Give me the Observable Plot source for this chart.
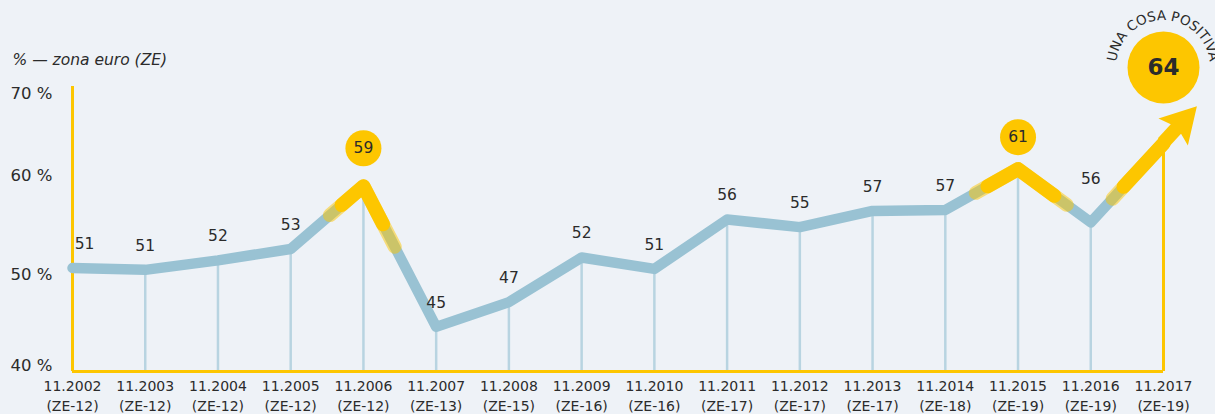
<!DOCTYPE html>
<html>
<head>
<meta charset="utf-8">
<script src="https://cdn.jsdelivr.net/npm/d3@7"></script>
<script src="https://cdn.jsdelivr.net/npm/@observablehq/plot@0.6"></script>
<style>
  html, body { margin: 0; padding: 0; background: #eef2f7; }
  #chart svg { display: block; }
</style>
</head>
<body>
<div id="chart"></div>
<script>
const years = [2002, 2003, 2004, 2005, 2006, 2007, 2008, 2009, 2010, 2011, 2012, 2013, 2014, 2015, 2016, 2017];
const tickLabels = ["11.2002", "11.2003", "11.2004", "11.2005", "11.2006", "11.2007", "11.2008", "11.2009", "11.2010", "11.2011", "11.2012", "11.2013", "11.2014", "11.2015", "11.2016", "11.2017"];
const zones = ["ZE-12", "ZE-12", "ZE-12", "ZE-12", "ZE-12", "ZE-13", "ZE-15", "ZE-16", "ZE-16", "ZE-17", "ZE-17", "ZE-17", "ZE-18", "ZE-19", "ZE-19", "ZE-19"];
const values = [50.9, 50.7, 51.7, 52.9, 59.5, 44.7, 47.3, 52.0, 50.8, 56.0, 55.2, 56.9, 57.0, 61.3, 55.7, 64.0];
const valueLabels = [51, 51, 52, 53, 59, 45, 47, 52, 51, 56, 55, 57, 57, 61, 56, 64];
const yTicks = [40, 50, 60, 70];
const peakIndex = [4, 13];
const title = "% — zona euro (ZE)";
const badge = "UNA COSA POSITIVA";

const YELLOW = "#fdc600";
const BLUE = "#99c2d3";
const DROP = "#b8d4e1";
const INK = "#2b2b2b";
const FONT = "DejaVu Sans, sans-serif";

const data = years.map((year, i) => ({
  year, value: values[i], label: valueLabels[i],
  tick: tickLabels[i] + "\n(" + zones[i] + ")", i
}));
const last = data[data.length - 1];
const prev = data[data.length - 2];

// fractional point along the segment from point a toward neighbour b
function along(a, b, f) {
  return {year: a.year + (b.year - a.year) * f, value: a.value + (b.value - a.value) * f};
}
function peakPath(i, fl, fr, g) {
  const p = data[i];
  return [
    {...along(p, data[i - 1], fl), g},
    {year: p.year, value: p.value, g},
    {...along(p, data[i + 1], fr), g}
  ];
}
const outerHL = [
  ...peakPath(4, 0.46, 0.43, "a"),
  ...peakPath(13, 0.58, 0.67, "b"),
  {...along(last, prev, 0.7), g: "c"}, {year: last.year, value: last.value, g: "c"}
];
const innerHL = [
  ...peakPath(4, 0.3, 0.27, "a"),
  ...peakPath(13, 0.42, 0.5, "b"),
  {...along(last, prev, 0.55), g: "c"}, {year: last.year, value: last.value, g: "c"}
];

const plain = data.filter(d => !peakIndex.includes(d.i) && d !== last && d.i !== 0 && d.i !== 14);
const yMid = yTicks.filter(v => v !== 40 && v !== 70);

const txt = {fill: INK, fontSize: 15.5};
const yl = {fill: INK, fontSize: 16.5};

const plot = Plot.plot({
  width: 1215,
  height: 414,
  marginLeft: 72,
  marginRight: 52,
  marginTop: 86,
  marginBottom: 43,
  style: {background: "#eef2f7", fontFamily: FONT, color: INK, overflow: "visible"},
  x: {domain: [2002, 2017], axis: null},
  y: {domain: [40, 70], axis: null},
  marks: [
    Plot.ruleX(data.filter(d => d !== last && d.i !== 0), {x: "year", y1: 40, y2: "value", stroke: DROP, strokeWidth: 2.5}),
    Plot.ruleX([last], {x: "year", y1: 40, y2: "value", stroke: YELLOW, strokeWidth: 3}),
    Plot.ruleX([2002], {stroke: YELLOW, strokeWidth: 3}),
    Plot.ruleY([40], {stroke: YELLOW, strokeWidth: 3}),
    Plot.line(data, {x: "year", y: "value", stroke: BLUE, strokeWidth: 10.5, strokeLinejoin: "round"}),
    Plot.line(outerHL, {x: "year", y: "value", z: "g", stroke: YELLOW, strokeOpacity: 0.5, strokeWidth: 14, strokeLinejoin: "round"}),
    Plot.line(innerHL, {x: "year", y: "value", z: "g", stroke: YELLOW, strokeWidth: 14, strokeLinejoin: "round"}),
    // value labels
    Plot.text(plain, {x: "year", y: "value", text: "label", dy: -24, ...txt}),
    Plot.text([data[0]], {x: "year", y: "value", text: "label", dy: -24, dx: 12, ...txt}),
    Plot.text([data[14]], {x: "year", y: "value", text: "label", dy: -43, ...txt}),
    // peak badges
    Plot.dot([data[4]], {x: "year", y: "value", r: 18, dy: -38, fill: YELLOW}),
    Plot.text([data[4]], {x: "year", y: "value", text: "label", dy: -38, ...txt}),
    Plot.dot([data[13]], {x: "year", y: "value", r: 18, dy: -32, fill: YELLOW}),
    Plot.text([data[13]], {x: "year", y: "value", text: "label", dy: -32, ...txt}),
    Plot.dot([last], {x: "year", y: "value", dy: -76, r: 36, fill: YELLOW}),
    Plot.text([last], {x: "year", y: "value", dy: -76, text: "label", fontSize: 23, fontWeight: "bold", fill: INK}),
    // y tick labels
    Plot.text([70], {y: d => d, frameAnchor: "left", dx: -62, textAnchor: "start", lineAnchor: "top", dy: 1, text: d => d + " %", ...yl}),
    Plot.text([yMid[0]], {y: d => d, frameAnchor: "left", dx: -62, textAnchor: "start", lineAnchor: "middle", dy: -2, text: d => d + " %", ...yl}),
    Plot.text([yMid[1]], {y: d => d, frameAnchor: "left", dx: -62, textAnchor: "start", lineAnchor: "middle", dy: -6, text: d => d + " %", ...yl}),
    Plot.text([40], {y: d => d, frameAnchor: "left", dx: -62, textAnchor: "start", lineAnchor: "bottom", dy: -1, text: d => d + " %", ...yl}),
    // x tick labels
    Plot.text(data, {x: "year", frameAnchor: "bottom", lineAnchor: "top", dy: 5, text: "tick", fontSize: 14, lineHeight: 1.43, fill: INK}),
    // title
    Plot.text([title], {frameAnchor: "top-left", lineAnchor: "middle", dx: -60, dy: -26, textAnchor: "start", text: d => d, fontSize: 15.5, fontStyle: "italic", fill: INK})
  ]
});

// arrow head at the end, placed through the plot's own scales
const sx = plot.scale("x"), sy = plot.scale("y");
const p1 = [sx.apply(prev.year), sy.apply(prev.value)];
const p2 = [sx.apply(last.year), sy.apply(last.value)];
const len = Math.hypot(p2[0] - p1[0], p2[1] - p1[1]);
const d = [(p2[0] - p1[0]) / len, (p2[1] - p1[1]) / len];
const n = [-d[1], d[0]];
const at = (L, W) => [p2[0] + d[0] * L + n[0] * W, p2[1] + d[1] * L + n[1] * W];
const svg = d3.select(plot);
svg.append("line")
  .attr("x1", p2[0]).attr("y1", p2[1])
  .attr("x2", at(20, 0)[0]).attr("y2", at(20, 0)[1])
  .attr("stroke", YELLOW).attr("stroke-width", 14);
svg.append("polygon")
  .attr("points", [at(50, 0), at(15, 20), at(19, 7), at(19, -7), at(15, -20)].map(p => p.join(",")).join(" "))
  .attr("fill", YELLOW);

// curved badge text around the big circle
const cx = p2[0], cy = p2[1] - 76, R = 47;
const a0 = 196 * Math.PI / 180, a1 = -16 * Math.PI / 180;
svg.append("defs").append("path")
  .attr("id", "badgeArc")
  .attr("d", `M${cx + R * Math.cos(a0)},${cy - R * Math.sin(a0)} A${R},${R} 0 1 1 ${cx + R * Math.cos(a1)},${cy - R * Math.sin(a1)}`);
svg.append("text")
  .attr("font-family", FONT).attr("font-size", 13.5).attr("fill", INK)
  .append("textPath")
  .attr("href", "#badgeArc").attr("startOffset", "50%").attr("text-anchor", "middle")
  .text(badge);

document.getElementById("chart").appendChild(plot);
</script>
</body>
</html>
